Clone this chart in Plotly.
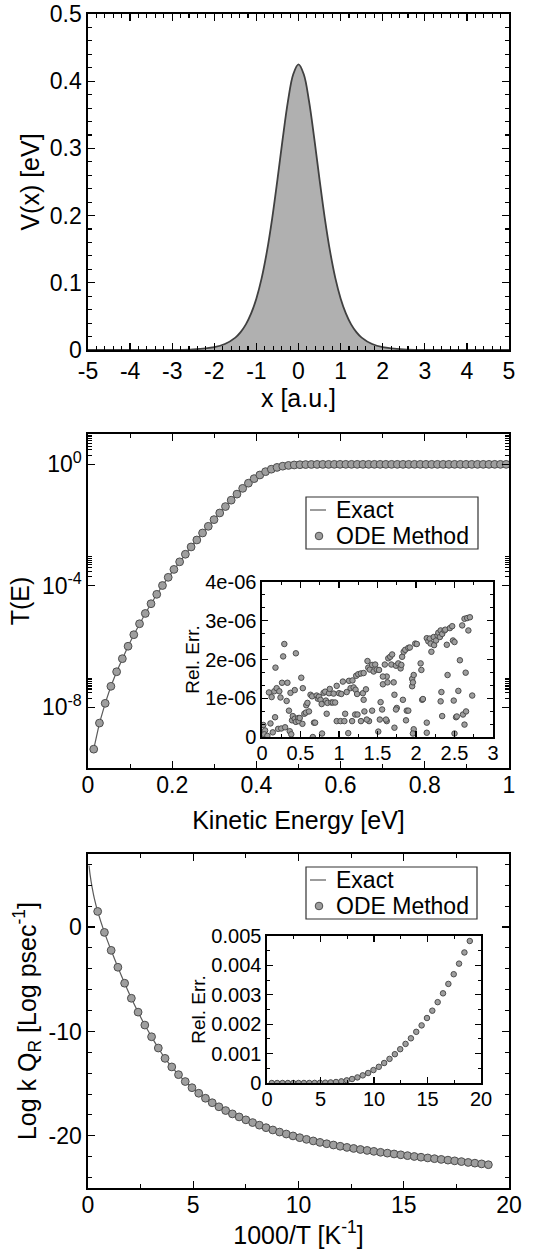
import plotly.graph_objects as go

# ---------------- data ----------------
# Panel 1: barrier potential
pot_x = [-5, -4.5, -4, -3.5, -3, -2.5, -2, -1.75, -1.5, -1.375, -1.25, -1.125, -1, -0.875, -0.75,
         -0.625, -0.5, -0.375, -0.25, -0.125, 0, 0.125, 0.25, 0.375, 0.5, 0.625, 0.75, 0.875, 1,
         1.125, 1.25, 1.375, 1.5, 1.75, 2, 2.5, 3, 3.5, 4, 4.5, 5]
pot_v = [0.0, 0.000001, 0.000003, 0.00005, 0.00021, 0.00094, 0.00419, 0.00888, 0.01847, 0.0266,
         0.0382, 0.0545, 0.0768, 0.1070, 0.1467, 0.1960, 0.2536, 0.3145, 0.3704, 0.4104, 0.4250,
         0.4104, 0.3704, 0.3145, 0.2536, 0.1960, 0.1467, 0.1070, 0.0768, 0.0545, 0.0382, 0.0266,
         0.01847, 0.00888, 0.00419, 0.00094, 0.00021, 0.00005, 0.000003, 0.000001, 0.0]

# Panel 2: transmission probability
energy_ev = [0.0136, 0.0272, 0.0408, 0.0544, 0.0680, 0.0816, 0.0952, 0.1088, 0.1224, 0.1361,
             0.1497, 0.1633, 0.1769, 0.1905, 0.2041, 0.2177, 0.2313, 0.2449, 0.2585, 0.2721,
             0.2857, 0.2993, 0.3129, 0.3265, 0.3401, 0.3538, 0.3674, 0.3810, 0.3946, 0.4082,
             0.4218, 0.4354, 0.4490, 0.4626, 0.4762, 0.4898, 0.5034, 0.5170, 0.5306, 0.5442,
             0.5578, 0.5715, 0.5851, 0.5987, 0.6123, 0.6259, 0.6395, 0.6531, 0.6667, 0.6803,
             0.6939, 0.7075, 0.7211, 0.7347, 0.7483, 0.7619, 0.7755, 0.7892, 0.8028, 0.8164,
             0.8300, 0.8436, 0.8572, 0.8708, 0.8844, 0.8980, 0.9116, 0.9252, 0.9388, 0.9524,
             0.9660, 0.9796, 0.9932]
log10_trans = [-9.38, -8.52, -7.87, -7.31, -6.83, -6.40, -5.99, -5.61, -5.25, -4.91,
               -4.59, -4.28, -3.99, -3.72, -3.46, -3.21, -2.96, -2.72, -2.49, -2.26,
               -2.04, -1.82, -1.60, -1.39, -1.18, -0.98, -0.79, -0.62, -0.47, -0.35,
               -0.24, -0.16, -0.10, -0.06, -0.035, -0.02, -0.011, -0.006, -0.003, -0.0015,
               -0.0008, -0.0004, -0.0002, 0, 0, 0, 0, 0, 0, 0,
               0, 0, 0, 0, 0, 0, 0, 0, 0, 0,
               0, 0, 0, 0, 0, 0, 0, 0, 0, 0,
               0, 0, 0]
transmission = [10 ** v for v in log10_trans]

# Inset of panel 2: relative error (units of 1e-6)
err1_x = [0.017, 0.04, 0.03, 0.07, 0.09, 0.125, 0.11, 0.14, 0.16, 0.175, 0.19, 0.17, 0.225, 0.21,
          0.24, 0.25, 0.26, 0.275, 0.29, 0.30, 0.32, 0.33, 0.35, 0.37, 0.36, 0.39, 0.40, 0.425,
          0.44, 0.425, 0.44, 0.47, 0.475, 0.49, 0.38, 0.51, 0.525, 0.53, 0.55, 0.57, 0.575, 0.59,
          0.61, 0.63, 0.65, 0.66, 0.675, 0.69, 0.71, 0.725, 0.74, 0.76, 0.775, 0.78, 0.80, 0.82,
          0.83, 0.85, 0.84, 0.87, 0.88, 0.90, 0.92, 0.93, 0.95, 0.97, 0.97, 1.00, 1.02, 1.03,
          1.05, 1.07, 1.08, 1.10, 1.12, 1.13, 1.15, 1.17, 1.175, 1.19, 1.21,
          1.223, 1.25, 1.285, 1.32, 1.215, 1.235, 1.31, 1.35, 1.32, 1.24, 1.285, 1.33, 1.37, 1.38,
          1.40, 1.43, 1.45, 1.47, 1.49, 1.52, 1.43, 1.39, 1.36, 1.54, 1.57, 1.595, 1.62, 1.64,
          1.665, 1.68, 1.69, 1.71, 1.57, 1.53, 1.56, 1.63, 1.74, 1.77, 1.80, 1.81, 1.82, 1.84,
          1.86, 1.90, 1.92, 1.72, 1.62, 1.61, 1.83, 1.75, 1.74, 1.72, 1.88, 1.90, 1.95, 1.95,
          1.97, 1.96, 1.87, 1.97, 1.99, 2.01, 2.06, 2.08, 2.07, 2.09, 2.14, 2.16, 2.18, 2.19,
          2.20, 2.23, 2.235, 2.26, 2.28, 2.29, 2.31, 2.32, 2.34, 2.37, 2.38, 2.40, 2.41, 2.44,
          2.47, 2.48, 2.50, 2.14, 2.14, 2.33, 2.34, 2.32, 2.49, 2.52, 2.55, 2.53, 2.57, 2.60,
          2.61, 2.63, 2.645, 2.65, 2.665, 2.68, 2.70, 2.63, 2.73, 1.51, 1.96, 2.50]
err1_y = [0.31, 0.17, 0.07, 0.03, 1.15, 1.03, 0.35, 0.12, 1.18, 1.79, 1.26, 0.51, 1.18, 0.21,
          1.02, 0.22, 1.40, 2.08, 2.40, 0.25, 0.93, 1.40, 0.68, 1.14, 0.15, 0.43, 0.54, 1.21,
          2.16, 0.47, 0.39, 0.49, 0.41, 0.49, 0.07, 1.53, 0.34, 1.26, 0.60, 0.63, 0.82, 0.88,
          0.66, 1.09, 1.05, 0.0, 0.37, 0.37, 1.07, 0.99, 1.04, 0.96, 0.85, 0.09, 1.14, 1.17,
          0.94, 0.88, 0.60, 1.13, 1.24, 0.89, 0.89, 1.12, 0.89, 1.32, 0.41, 1.13, 0.41, 1.11,
          1.43, 0.41, 0.60, 1.16, 0.10, 1.45, 1.26, 0.41, 1.46, 1.28, 0.58,
          1.58, 1.62, 1.64, 1.65, 1.22, 1.11, 1.13, 1.23, 0.96, 0.58, 0.41, 0.66, 1.96, 1.79,
          1.74, 1.86, 1.69, 1.87, 1.74, 1.73, 0.68, 0.41, 0.45, 0.90, 1.36, 1.87, 1.56, 2.03,
          2.07, 1.87, 2.13, 1.41, 1.56, 0.45, 0.71, 1.41, 1.84, 1.90, 1.77, 1.86, 2.07, 2.20,
          2.25, 2.30, 2.31, 1.09, 0.41, 0.45, 0.96, 0.75, 0.71, 0.24, 0.68, 0.68, 1.31, 1.50,
          1.60, 1.41, 0.43, 0.20, 2.41, 2.40, 1.90, 0.96, 1.73, 0.98, 2.55, 2.47, 2.54, 2.41,
          2.20, 2.58, 2.37, 2.49, 2.62, 2.69, 2.58, 2.75, 2.66, 2.75, 2.77, 2.38, 1.60, 2.81,
          2.86, 2.49, 2.45, 0.37, 0.11, 1.16, 0.54, 0.92, 0.94, 0.51, 1.19, 0.53, 1.98, 2.88,
          0.58, 3.05, 1.66, 0.66, 3.07, 2.75, 3.09, 0.32, 1.07, 0.14, 0.09, 0.09]
err1_y_abs = [v * 1e-6 for v in err1_y]

# Panel 3: rate constant
invT = [0.46, 0.78, 1.10, 1.42, 1.74, 2.06, 2.38, 2.70, 3.02, 3.34, 3.66, 3.98, 4.30, 4.62,
        4.94, 5.26, 5.58, 5.90, 6.22, 6.54, 6.86, 7.18, 7.50, 7.82, 8.14, 8.46, 8.78, 9.10,
        9.42, 9.74, 10.06, 10.38, 10.70, 11.02, 11.34, 11.66, 11.98, 12.30, 12.62, 12.94,
        13.26, 13.58, 13.90, 14.22, 14.54, 14.86, 15.18, 15.50, 15.82, 16.14, 16.46, 16.78,
        17.10, 17.42, 17.74, 18.06, 18.38, 18.70, 19.02]
logkq = [1.50, -0.51, -2.23, -3.85, -5.38, -6.82, -8.15, -9.39, -10.51, -11.59, -12.58,
         -13.40, -14.14, -14.80, -15.39, -15.92, -16.40, -16.83, -17.22, -17.58, -17.90,
         -18.19, -18.47, -18.73, -18.98, -19.22, -19.44, -19.64, -19.83, -20.01, -20.18,
         -20.34, -20.49, -20.63, -20.76, -20.88, -21.00, -21.11, -21.21, -21.31, -21.40,
         -21.49, -21.58, -21.66, -21.74, -21.82, -21.90, -21.98, -22.05, -22.12, -22.19,
         -22.26, -22.33, -22.40, -22.47, -22.55, -22.62, -22.69, -22.77]
exact_lead_x = [0.05, 0.1, 0.2, 0.3]
exact_lead_y = [5.9, 5.0, 3.75, 2.75]

# Inset of panel 3: relative error (units of 1e-3)
err2_x = [0.45, 0.95, 1.45, 1.95, 2.45, 2.95, 3.45, 3.95, 4.45, 4.95, 5.45, 5.95, 6.45,
          6.95, 7.45, 7.95, 8.45, 8.95, 9.45, 9.95, 10.45, 10.95, 11.45, 11.95, 12.45, 12.95,
          13.45, 13.95, 14.45, 14.95, 15.45, 15.95, 16.45, 16.95, 17.45, 17.95, 18.45, 18.95]
err2_y = [0.0, 0.00001, 0.00002, 0.00005, 0.0001, 0.0003, 0.0007, 0.0015, 0.003, 0.006,
          0.011, 0.02, 0.034, 0.056, 0.09, 0.135, 0.19, 0.26, 0.34, 0.44, 0.55, 0.68, 0.82,
          0.98, 1.15, 1.33, 1.52, 1.74, 1.96, 2.21, 2.46, 2.75, 3.05, 3.37, 3.70, 4.06, 4.44,
          4.83]
err2_y_abs = [v * 1e-3 for v in err2_y]

legend_labels = ["Exact", "ODE Method"]

# ---------------- styling ----------------
W, H = 552, 1249
FONT = "Liberation Sans, Arial, Helvetica, sans-serif"
LINE_C = "#5a5a5a"
MK_FILL = "#9e9e9e"
MK_EDGE = "#4d4d4d"
TICK_FS, TITLE_FS, INSET_FS, INSET_TITLE_FS, LEG_FS = 23, 25, 20, 19, 23

# main panel horizontal extent (page px)
PX0, PX1 = 88, 509


def px(p):
    return p / W


def py(p):
    return 1 - p / H


def xd(a, b):
    return [px(a), px(b)]


def yd(top, bottom):
    return [py(bottom), py(top)]


def ax(**kw):
    base = dict(showline=True, linecolor="black", linewidth=1.6, mirror="allticks",
                ticks="inside", ticklen=7, tickwidth=1.3, tickcolor="black",
                showgrid=False, zeroline=False, automargin=False,
                tickfont=dict(family=FONT, size=TICK_FS, color="black"),
                title_font=dict(family=FONT, size=TITLE_FS, color="black"))
    base.update(kw)
    return base


fig = go.Figure()

# Panel 1
fig.add_trace(go.Scatter(x=pot_x, y=pot_v, mode="lines", line=dict(color="#404040", width=1.8, shape="spline"),
                         fill="tozeroy", fillcolor="#b0b0b0", showlegend=False, xaxis="x", yaxis="y"))

mk_main = dict(size=7.8, color=MK_FILL, line=dict(color=MK_EDGE, width=1))
mk_small = dict(size=5.5, color=MK_FILL, line=dict(color=MK_EDGE, width=1))

# Panel 2
fig.add_trace(go.Scatter(x=energy_ev, y=transmission, mode="lines", name=legend_labels[0],
                         line=dict(color=LINE_C, width=1.2), showlegend=False, xaxis="x2", yaxis="y2"))
fig.add_trace(go.Scatter(x=energy_ev, y=transmission, mode="markers", name=legend_labels[1],
                         marker=mk_main, showlegend=False, xaxis="x2", yaxis="y2"))
# Inset 2
fig.add_trace(go.Scatter(x=err1_x, y=err1_y_abs, mode="markers", showlegend=False,
                         marker=mk_small, xaxis="x3", yaxis="y3"))

# Panel 3
fig.add_trace(go.Scatter(x=exact_lead_x + invT, y=exact_lead_y + logkq, mode="lines", name=legend_labels[0],
                         line=dict(color=LINE_C, width=1.2, shape="spline"), showlegend=False,
                         xaxis="x4", yaxis="y4"))
fig.add_trace(go.Scatter(x=invT, y=logkq, mode="markers", name=legend_labels[1],
                         marker=mk_main, showlegend=False, xaxis="x4", yaxis="y4"))
# Inset 3
fig.add_trace(go.Scatter(x=err2_x, y=err2_y_abs, mode="markers", showlegend=False,
                         marker=mk_small, xaxis="x5", yaxis="y5"))

p1x = [-5, -4, -3, -2, -1, 0, 1, 2, 3, 4, 5]
p1y = [0, 0.1, 0.2, 0.3, 0.4, 0.5]
p2x = [0, 0.2, 0.4, 0.6, 0.8, 1]
p2y = [1e-8, 1e-4, 1]
p2y_minor = [k * 10.0 ** n for n in (-12, -8, -4, 0) for k in range(2, 10)]
i2x = [0, 0.5, 1, 1.5, 2, 2.5, 3]
i2y = [0, 1e-6, 2e-6, 3e-6, 4e-6]
p3x = [0, 5, 10, 15, 20]
p3y = [-20, -10, 0]
i3y = [0, 0.001, 0.002, 0.003, 0.004, 0.005]

small = dict(family=FONT, size=INSET_FS, color="black")
small_t = dict(family=FONT, size=INSET_TITLE_FS, color="black")
minor_main = dict(ticks="inside", ticklen=4, tickwidth=1.1, tickcolor="black")
minor_small = dict(ticks="inside", ticklen=3, tickwidth=1.1, tickcolor="black")
XLS = -4   # pull x tick labels closer to the axis line

fig.update_layout(
    template="none",
    width=W, height=H, margin=dict(l=0, r=0, t=0, b=0, pad=0, autoexpand=False),
    paper_bgcolor="white", plot_bgcolor="white",
    font=dict(family=FONT, size=TICK_FS, color="black"),
    xaxis=ax(domain=xd(PX0, PX1), anchor="y", range=[-5, 5], tickmode="array", tickvals=p1x,
             ticktext=[str(v) for v in p1x], minor=dict(dtick=0.2, tick0=0, **minor_main),
             ticklabelstandoff=0, title=dict(text="x [a.u.]", standoff=0)),
    yaxis=ax(domain=yd(14, 350), anchor="x", range=[0, 0.5], tickmode="array", tickvals=p1y,
             ticktext=["0", "0.1", "0.2", "0.3", "0.4", "0.5"],
             minor=dict(dtick=0.02, tick0=0, **minor_main),
             title=dict(text="V(x) [eV]", standoff=3)),
    xaxis2=ax(domain=xd(PX0, PX1), anchor="y2", range=[0, 1], tickmode="array", tickvals=p2x,
              ticktext=["0", "0.2", "0.4", "0.6", "0.8", "1"],
              minor=dict(dtick=0.1, tick0=0, **minor_main),
              ticklabelstandoff=XLS, title=dict(text="Kinetic Energy [eV]", standoff=14)),
    yaxis2=ax(domain=yd(434, 768), anchor="x2", type="log", range=[-10, 1], tickmode="array",
              tickvals=p2y, ticktext=["10<sup>-8</sup>", "10<sup>-4</sup>", "10<sup>0</sup>"],
              minor=dict(tickmode="array", tickvals=p2y_minor, **minor_main),
              title=dict(text="T(E)", standoff=5)),
    xaxis3=ax(domain=xd(262, 493), anchor="y3", range=[0, 3], tickmode="array", tickvals=i2x,
              ticktext=["0", "0.5", "1", "1.5", "2", "2.5", "3"], ticklen=6,
              ticklabelstandoff=-3, tickfont=small, minor=dict(dtick=0.25, tick0=0, **minor_small)),
    yaxis3=ax(domain=yd(582, 737), anchor="x3", range=[0, 4e-6], tickmode="array", tickvals=i2y,
              ticktext=["0", "1e-06", "2e-06", "3e-06", "4e-06"], ticklen=6, tickfont=small,
              minor=dict(dtick=1e-6 / 3, tick0=0, **minor_small),
              title=dict(text="Rel. Err.", standoff=0, font=small_t)),
    xaxis4=ax(domain=xd(PX0, PX1), anchor="y4", range=[0, 20], tickmode="array", tickvals=p3x,
              ticktext=[str(v) for v in p3x], minor=dict(dtick=2.5, tick0=0, **minor_main),
              ticklabelstandoff=XLS, title=dict(text="1000/T [K<sup>-1</sup>]", standoff=6)),
    yaxis4=ax(domain=yd(854, 1188), anchor="x4", range=[-25, 7], tickmode="array", tickvals=p3y,
              ticktext=["-20", "-10", "0"], minor=dict(dtick=2, tick0=0, **minor_main),
              title=dict(text="Log k Q<sub>R</sub> [Log psec<sup>-1</sup>]", standoff=5)),
    xaxis5=ax(domain=xd(267, 481), anchor="y5", range=[0, 20], tickmode="array", tickvals=p3x,
              ticktext=[str(v) for v in p3x], ticklen=6, ticklabelstandoff=-3, tickfont=small,
              minor=dict(dtick=2.5, tick0=0, **minor_small)),
    yaxis5=ax(domain=yd(936, 1083), anchor="x5", range=[0, 0.005], tickmode="array", tickvals=i3y,
              ticktext=["0", "0.001", "0.002", "0.003", "0.004", "0.005"], ticklen=6, tickfont=small,
              minor=dict(dtick=0.0005, tick0=0, **minor_small),
              title=dict(text="Rel. Err.", standoff=0, font=small_t)),
    showlegend=False,
)

# hand-drawn legend boxes (page pixel positions)
shapes, annots = [], []
for (bx0, bx1, by0, by1) in [(306, 478, 497, 549), (306, 477, 867, 919)]:
    y_row1 = by0 + 13
    y_row2 = by0 + 39
    shapes.append(dict(type="rect", xref="paper", yref="paper", x0=px(bx0), x1=px(bx1),
                       y0=py(by1), y1=py(by0), line=dict(color="#333333", width=1.2),
                       fillcolor="white", layer="above"))
    shapes.append(dict(type="line", xref="paper", yref="paper", x0=px(310), x1=px(326),
                       y0=py(y_row1), y1=py(y_row1), line=dict(color=LINE_C, width=1.2),
                       layer="above"))
    r = 3.8
    shapes.append(dict(type="circle", xref="paper", yref="paper", x0=px(319 - r), x1=px(319 + r),
                       y0=py(y_row2 + r), y1=py(y_row2 - r), fillcolor=MK_FILL,
                       line=dict(color=MK_EDGE, width=1), layer="above"))
    for txt, yy in zip(legend_labels, (y_row1, y_row2)):
        annots.append(dict(xref="paper", yref="paper", x=px(334), y=py(yy), text=txt, showarrow=False,
                           xanchor="left", yanchor="middle",
                           font=dict(family=FONT, size=LEG_FS, color="black")))

fig.update_layout(shapes=shapes, annotations=annots)

fig.write_html("out.html", config={"displayModeBar": False, "staticPlot": True},
               post_script="document.body.style.margin='0';document.body.style.overflow='hidden';")
